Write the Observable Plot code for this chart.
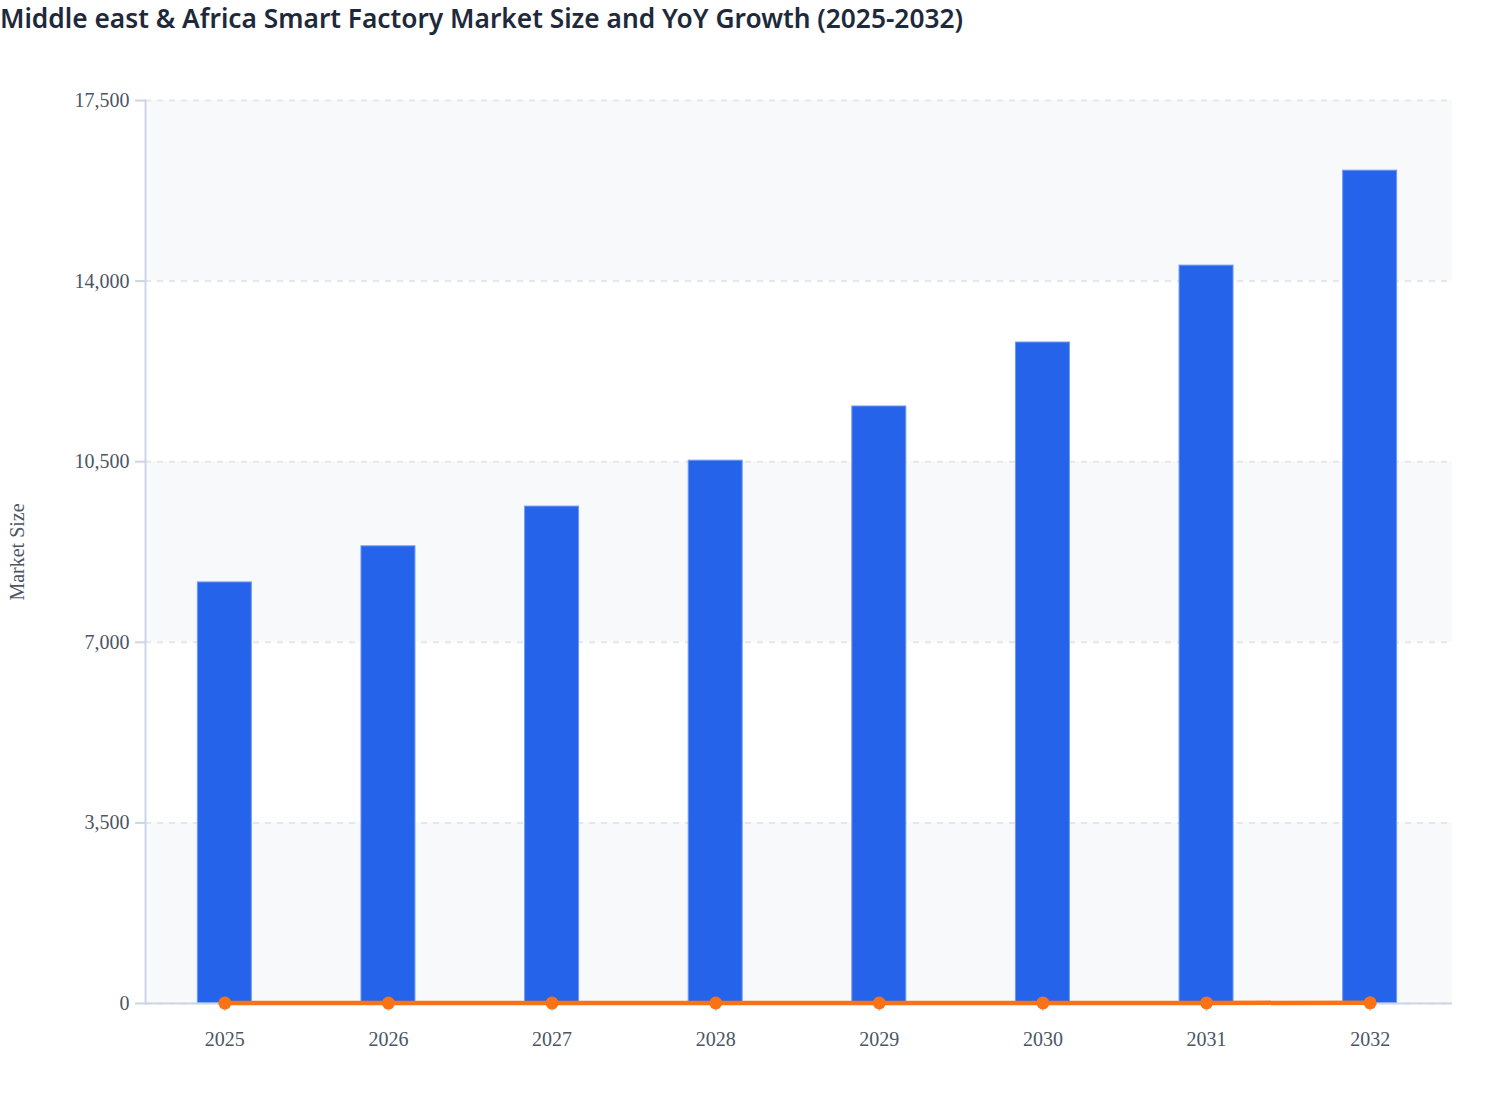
<!DOCTYPE html>
<html><head><meta charset="utf-8">
<script src="https://cdn.jsdelivr.net/npm/d3@7"></script>
<script src="https://cdn.jsdelivr.net/npm/@observablehq/plot@0.6"></script>
<style>
body{margin:0;background:#fff;}
#title{font-family:"Noto Sans",sans-serif;font-weight:600;font-size:26.3px;color:#1e293b;line-height:36px;height:36px;white-space:nowrap;}
</style></head><body>
<div id="title">Middle east &amp; Africa Smart Factory Market Size and YoY Growth (2025-2032)</div>
<div id="chart"></div>
<script>
const years = ["2025", "2026", "2027", "2028", "2029", "2030", "2031", "2032"];
const marketSize = [8160, 8860, 9630, 10520, 11570, 12810, 14300, 16140];
const yoyGrowth = [8.2, 8.6, 8.7, 9.3, 9.9, 10.7, 11.6, 12.9];
const yTicks = [0, 3500, 7000, 10500, 14000, 17500];
const bandStarts = [0, 7000, 14000];
const bandEnds = [3500, 10500, 17500];

const data = years.map((year, i) => ({year, size: marketSize[i], growth: yoyGrowth[i]}));
const bands = bandStarts.map((y1, i) => ({y1, y2: bandEnds[i]}));

const chart = Plot.plot({
  width: 1508, height: 1060,
  marginTop: 64, marginBottom: 93, marginLeft: 145, marginRight: 56,
  style: {fontFamily: '"Liberation Serif", serif', fontSize: "20px", color: "#4b5563", background: "#fff"},
  x: {type: "band", domain: years, range: [145, 1449], paddingInner: 0.67, paddingOuter: 0.32, round: false},
  y: {domain: [0, 17500]},
  marks: [
    Plot.rect(bands, {y1: "y1", y2: "y2", fill: "#f8f9fb"}),
    Plot.gridY(yTicks, {stroke: "#e5e7eb", strokeOpacity: 1, strokeWidth: 2, strokeDasharray: "6,6"}),
    Plot.barY(data, {x: "year", y: "size", fill: "#2563eb", stroke: "#6f9af3", strokeWidth: 1}),
    Plot.frame({anchor: "left", stroke: "#cbd5e8", strokeWidth: 2}),
    Plot.ruleY([0], {stroke: "#cbd5e8", strokeWidth: 2}),
    Plot.axisY(yTicks, {tickSize: 10, tickPadding: 6, stroke: "#cbd5e8", strokeWidth: 2, fill: "#4b5563", tickFormat: d3.format(","), label: null}),
    Plot.axisX({tickSize: 8, tickPadding: 20, stroke: "#cbd5e8", strokeWidth: 2, fill: "#4b5563", label: null}),
    Plot.line(data, {x: "year", y: "growth", stroke: "#f97316", strokeWidth: 4.5}),
    Plot.dot(data, {x: "year", y: "growth", r: 6.5, fill: "#f97316"}),
    Plot.text(["Market Size"], {frameAnchor: "left", dx: -128, rotate: -90, textAnchor: "middle", text: d => d, fill: "#4b5563", fontSize: 20})
  ]
});
document.getElementById("chart").appendChild(chart);
</script>
</body></html>
